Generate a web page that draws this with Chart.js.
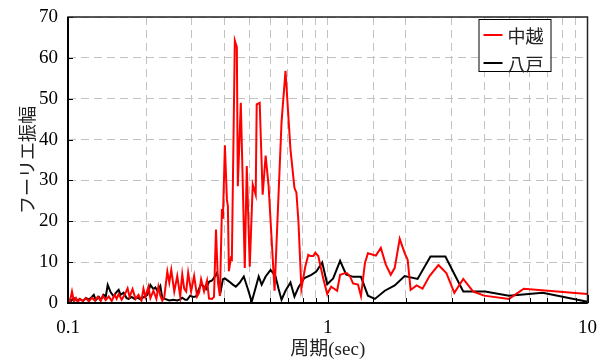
<!DOCTYPE html>
<html>
<head>
<meta charset="utf-8">
<script src="https://cdn.jsdelivr.net/npm/chart.js@4.4.1/dist/chart.umd.min.js"></script>
<style>
  html, body { margin: 0; padding: 0; background: #fff; }
</style>
</head>
<body>
<canvas id="c" width="611" height="361"></canvas>
<script>
// Fourier amplitude spectra: period (sec) vs amplitude
const seriesLabels = ['中越', '八戸'];
const seriesColors = ['#ff0000', '#000000'];

const chuetsuPeriod = [
  0.1000, 0.1018, 0.1036, 0.1054, 0.1073, 0.1092, 0.1111, 0.1141, 0.1172, 0.1203,
  0.1235, 0.1268, 0.1302, 0.1337, 0.1361, 0.1397, 0.1435, 0.1473, 0.1512, 0.1539,
  0.1567, 0.1609, 0.1652, 0.1696, 0.1726, 0.1772, 0.1820, 0.1868, 0.1918, 0.1952,
  0.1987, 0.2040, 0.2076, 0.2132, 0.2189, 0.2228, 0.2267, 0.2307, 0.2348, 0.2412,
  0.2455, 0.2498, 0.2565, 0.2634, 0.2704, 0.2753, 0.2801, 0.2851, 0.2901, 0.2979,
  0.3059, 0.3141, 0.3197, 0.3254, 0.3341, 0.3430, 0.3491, 0.3584, 0.3648, 0.3713,
  0.3778, 0.3845, 0.3913, 0.3948, 0.4018, 0.4090, 0.4126, 0.4163, 0.4237, 0.4274,
  0.4388, 0.4467, 0.4506, 0.4627, 0.4793, 0.4878, 0.5009, 0.5143, 0.5280, 0.5327,
  0.5470, 0.5616, 0.5766, 0.5920, 0.6241, 0.6638, 0.6876, 0.7186, 0.7443, 0.7575,
  0.7710, 0.7916, 0.8199, 0.8419, 0.8568, 0.8798, 0.8954, 0.9194, 0.9608, 0.9952,
  1.0309, 1.0585, 1.0868, 1.1159, 1.1661, 1.1868, 1.2186, 1.2512, 1.3075, 1.3425,
  1.3906, 1.4278, 1.4921, 1.5320, 1.6009, 1.6730, 1.7483, 1.8109, 1.8925, 1.9776,
  2.0305, 2.0849, 2.1980, 2.3172, 2.4645, 2.6676, 2.8623, 3.0711, 3.3243, 3.6302,
  3.9994, 4.9840, 5.6875, 10.0
];
const chuetsuAmp = [
  0.8, 0.5, 2.8, 0.4, 1.2, 0.3, 1.0, 0.5, 1.2, 0.4,
  1.3, 0.6, 1.5, 0.5, 1.8, 0.7, 1.6, 0.5, 2.0, 1.0,
  2.2, 0.8, 2.0, 3.6, 1.5, 3.4, 1.0, 2.0, 0.6, 3.5,
  1.5, 4.0, 1.2, 3.0, 1.0, 4.0, 1.8, 0.6, 1.5, 7.7,
  5.0, 8.1, 2.8, 6.6, 1.6, 7.0, 3.5, 2.8, 7.4, 2.8,
  6.6, 1.6, 2.5, 5.8, 2.8, 5.5, 1.1, 1.0, 1.5, 18.0,
  5.0, 1.7, 23.0, 20.6, 38.6, 25.3, 23.7, 7.8, 11.0, 10.7,
  64.2, 62.6, 28.6, 49.0, 8.6, 33.5, 8.9, 29.0, 26.5, 48.6,
  49.0, 26.5, 36.1, 28.6, 3.0, 44.2, 56.8, 37.6, 28.2, 27.0,
  20.0, 3.5, 9.0, 11.8, 11.5, 11.5, 12.3, 11.5, 6.0, 2.2,
  4.0, 3.5, 3.0, 6.9, 7.3, 7.3, 6.5, 4.8, 4.5, 1.7,
  9.8, 12.2, 11.8, 11.6, 13.5, 9.4, 6.9, 8.6, 15.7, 12.2,
  10.6, 3.2, 4.3, 3.5, 6.6, 9.3, 7.3, 2.5, 5.9, 2.8,
  1.8, 1.0, 3.5, 2.2
];

const hachinohePeriod = [
  0.1000, 0.1027, 0.1054, 0.1082, 0.1111, 0.1141, 0.1172, 0.1203, 0.1235, 0.1257,
  0.1279, 0.1314, 0.1337, 0.1373, 0.1397, 0.1422, 0.1460, 0.1499, 0.1526, 0.1567,
  0.1595, 0.1637, 0.1681, 0.1711, 0.1757, 0.1804, 0.1852, 0.1902, 0.1952, 0.2022,
  0.2076, 0.2132, 0.2170, 0.2208, 0.2267, 0.2307, 0.2390, 0.2455, 0.2543, 0.2634,
  0.2704, 0.2753, 0.2826, 0.2876, 0.2953, 0.3032, 0.3113, 0.3197, 0.3254, 0.3341,
  0.3400, 0.3491, 0.3584, 0.3680, 0.3745, 0.3812, 0.3879, 0.3948, 0.4018, 0.4163,
  0.4312, 0.4427, 0.4587, 0.4751, 0.4921, 0.5097, 0.5280, 0.5422, 0.5567, 0.5766,
  0.6025, 0.6296, 0.6465, 0.6638, 0.6876, 0.7186, 0.7443, 0.7710, 0.8128, 0.8644,
  0.9034, 0.9524, 0.9952, 1.0492, 1.1159, 1.1764, 1.2512, 1.3425, 1.4278, 1.5185,
  1.6583, 1.8109, 1.9776, 2.2174, 2.4862, 2.8372, 3.3243, 4.0348, 4.9840, 6.7231,
  10.0
];
const hachinoheAmp = [
  1.0, 0.5, 1.2, 0.6, 1.0, 0.5, 1.2, 0.8, 1.5, 2.0,
  0.7, 1.5, 0.8, 2.0, 1.5, 4.4, 2.6, 1.6, 2.4, 3.2,
  2.0, 2.5, 1.2, 1.0, 1.5, 1.0, 1.3, 0.9, 1.4, 2.0,
  4.4, 3.4, 3.8, 3.0, 4.2, 1.2, 0.9, 0.6, 0.8, 0.6,
  0.9, 1.3, 0.8, 0.8, 1.8, 1.5, 1.6, 3.5, 4.6, 4.0,
  3.4, 5.2, 5.5, 6.5, 7.4, 5.0, 3.2, 5.8, 6.0, 5.3,
  4.5, 4.0, 5.0, 6.5, 3.5, 0.3, 3.8, 6.5, 4.5, 6.5,
  8.1, 6.5, 3.5, 0.8, 3.0, 5.0, 1.6, 3.8, 6.1, 6.9,
  7.7, 9.9, 4.6, 6.0, 10.3, 7.0, 6.4, 6.4, 1.8, 1.0,
  3.0, 4.3, 6.6, 5.9, 11.4, 11.4, 2.8, 2.8, 1.8, 2.5,
  0.3
];

const xTickLabels = [0.1, 1, 10];
const yTickValues = [0, 10, 20, 30, 40, 50, 60, 70];

const toPoints = (xs, ys) => xs.map((x, i) => ({ x: x, y: ys[i] }));

const gridColor = '#c2c2c2';
const tickFont = { family: '"Liberation Serif", "Times New Roman", serif', size: 19 };

function isDecade(v) {
  const l = Math.log10(v);
  return Math.abs(l - Math.round(l)) < 1e-6;
}

// frame, inward tick marks and boxed legend
const framePlugin = {
  id: 'frameAndLegend',
  afterDraw(chart) {
    const { ctx, chartArea, scales } = chart;
    const { left, right, top, bottom } = chartArea;
    ctx.save();
    ctx.strokeStyle = '#000';
    ctx.lineWidth = 1;
    scales.y.ticks.forEach(t => {
      const py = Math.round(scales.y.getPixelForValue(t.value)) + 0.5;
      ctx.beginPath(); ctx.moveTo(left, py); ctx.lineTo(left + 5, py); ctx.stroke();
    });
    scales.x.ticks.forEach(t => {
      const px = Math.round(scales.x.getPixelForValue(t.value)) + 0.5;
      const len = isDecade(t.value) ? 8 : 5;
      ctx.beginPath(); ctx.moveTo(px, bottom); ctx.lineTo(px, bottom - len); ctx.stroke();
    });

    ctx.lineWidth = 1.5;
    ctx.strokeStyle = '#222';
    ctx.strokeRect(left, top, right - left, bottom - top);
    ctx.lineWidth = 2;
    ctx.strokeStyle = '#000';
    ctx.beginPath(); ctx.moveTo(left, top); ctx.lineTo(left, bottom); ctx.lineTo(right, bottom); ctx.stroke();

    // legend box
    const bx = right - 109, by = top + 2, bw = 72, bh = 52;
    ctx.fillStyle = '#fff';
    ctx.fillRect(bx, by, bw, bh);
    ctx.lineWidth = 1;
    ctx.strokeStyle = '#000';
    ctx.strokeRect(bx + 0.5, by + 0.5, bw, bh);
    ctx.font = '18px "Noto Sans CJK JP", sans-serif';
    ctx.textBaseline = 'middle';
    ctx.textAlign = 'left';
    chart.data.datasets.forEach((ds, i) => {
      const ly = by + 16 + i * 28;
      ctx.strokeStyle = ds.borderColor;
      ctx.lineWidth = 2;
      ctx.beginPath(); ctx.moveTo(bx + 5, ly); ctx.lineTo(bx + 24, ly); ctx.stroke();
      ctx.fillStyle = '#222';
      ctx.fillText(ds.label, bx + 29, ly + 1);
    });
    ctx.restore();
  }
};

new Chart(document.getElementById('c'), {
  type: 'line',
  data: {
    datasets: [
      {
        label: seriesLabels[0],
        data: toPoints(chuetsuPeriod, chuetsuAmp),
        borderColor: seriesColors[0],
        borderWidth: 2,
        pointRadius: 0,
        tension: 0,
        fill: false
      },
      {
        label: seriesLabels[1],
        data: toPoints(hachinohePeriod, hachinoheAmp),
        borderColor: seriesColors[1],
        borderWidth: 2,
        pointRadius: 0,
        tension: 0,
        fill: false
      }
    ]
  },
  options: {
    responsive: false,
    animation: false,
    devicePixelRatio: 1,
    layout: { padding: { top: 17, right: 20, left: 0, bottom: 0 } },
    plugins: {
      legend: { display: false },
      tooltip: { enabled: false }
    },
    scales: {
      x: {
        type: 'logarithmic',
        min: 0.1,
        max: 10,
        afterFit(scale) { scale.height = 58; },
        grid: { color: gridColor, lineWidth: 1, drawTicks: false },
        border: { display: false, dash: [8, 5] },
        ticks: {
          autoSkip: false,
          maxRotation: 0,
          padding: 14,
          color: '#000',
          font: tickFont,
          callback(v) {
            const m = xTickLabels.find(t => Math.abs(t - v) < 1e-9);
            return m === undefined ? '' : String(m);
          }
        },
        title: {
          display: true,
          text: '周期(sec)',
          color: '#222',
          font: { family: '"Liberation Serif", "Noto Sans CJK JP", serif', size: 19 },
          padding: { top: 0, bottom: 0 }
        }
      },
      y: {
        min: 0,
        max: 70,
        afterFit(scale) {
          scale.width = 68;
          scale.paddingTop = 0;
          scale.paddingBottom = 0;
        },
        afterBuildTicks(scale) { scale.ticks = yTickValues.map(v => ({ value: v })); },
        grid: { color: gridColor, lineWidth: 1, drawTicks: false },
        border: { display: false, dash: [8, 5] },
        ticks: { padding: 10, color: '#000', font: tickFont },
        title: {
          display: true,
          text: 'フーリエ振幅',
          color: '#222',
          font: { family: '"Noto Sans CJK JP", sans-serif', size: 18 },
          padding: { top: 16, bottom: 0 }
        }
      }
    }
  },
  plugins: [framePlugin]
});
</script>
</body>
</html>
